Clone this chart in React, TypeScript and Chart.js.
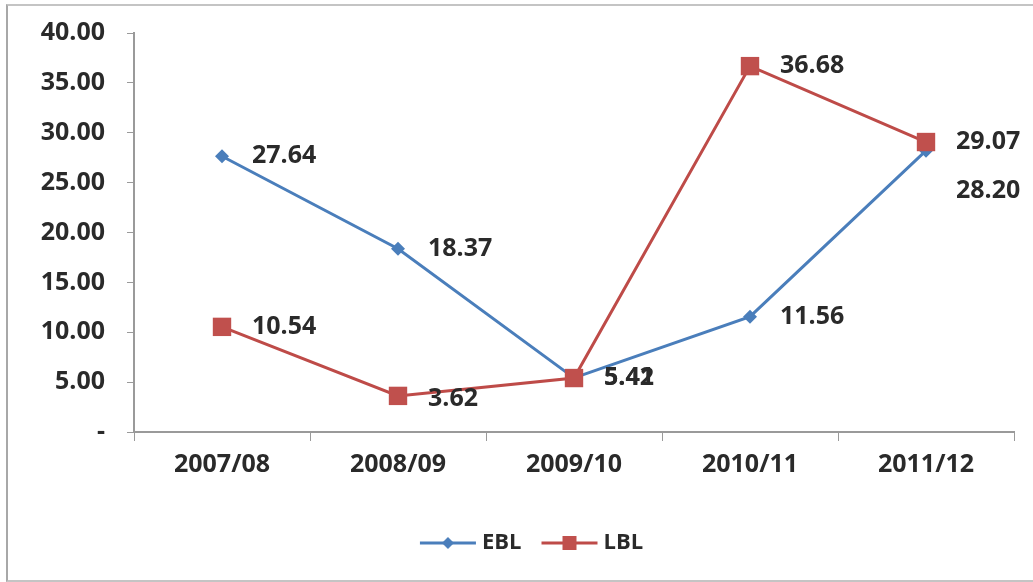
import React, { useEffect, useRef } from 'react';
import { Chart, registerables } from 'chart.js';

Chart.register(...registerables);

// ---- data ----
const categories = ['2007/08', '2008/09', '2009/10', '2010/11', '2011/12'];
const seriesNames = ['EBL', 'LBL'];
const eblValues = [27.64, 18.37, 5.42, 11.56, 28.2];
const lblValues = [10.54, 3.62, 5.41, 36.68, 29.07];
const yMin = 0;
const yMax = 40;
const yStep = 5;

// ---- style ----
const FONT = '"Open Sans", "Liberation Sans", sans-serif';
const TEXT = '#2a2a2a';
const AXIS = '#9a9a9a';
const BLUE = '#4a7ebb';
const RED = '#be4b48';
const RED_FILL = '#c0504d';
// vertical nudges for value labels per series (pixels)
const labelShiftY = [
  [0, 0, 0, 0, 40],
  [0, 3, 0, 0, 0],
];
const LEGEND_SHIFT_X = 27;

function makeLegendImage(color: string, fill: string, marker: 'diamond' | 'square') {
  const c = document.createElement('canvas');
  c.width = 58;
  c.height = 20;
  const g = c.getContext('2d')!;
  g.strokeStyle = color;
  g.lineWidth = 3;
  g.beginPath();
  g.moveTo(1, 10);
  g.lineTo(57, 10);
  g.stroke();
  g.fillStyle = fill;
  if (marker === 'diamond') {
    g.beginPath();
    g.moveTo(29, 4);
    g.lineTo(35, 10);
    g.lineTo(29, 16);
    g.lineTo(23, 10);
    g.closePath();
    g.fill();
  } else {
    g.fillRect(22, 3, 14, 14);
  }
  return c;
}

const valueLabels = {
  id: 'valueLabels',
  afterDatasetsDraw(chart: any) {
    const ctx = chart.ctx;
    ctx.save();
    ctx.font = `bold 25px ${FONT}`;
    ctx.fillStyle = TEXT;
    ctx.textAlign = 'left';
    ctx.textBaseline = 'middle';
    chart.data.datasets.forEach((ds: any, di: number) => {
      const meta = chart.getDatasetMeta(di);
      meta.data.forEach((pt: any, i: number) => {
        const v = ds.data[i] as number;
        const dy = (labelShiftY[di] && labelShiftY[di][i]) || 0;
        ctx.fillText(v.toFixed(2), pt.x + 30, pt.y + dy);
      });
    });
    ctx.restore();
  },
};

const legendShift = {
  id: 'legendShift',
  afterLayout(chart: any) {
    const lg = chart.legend;
    if (lg) {
      lg.left += LEGEND_SHIFT_X;
      lg.right += LEGEND_SHIFT_X;
    }
  },
};

export default function App() {
  const ref = useRef<HTMLCanvasElement>(null);

  useEffect(() => {
    if (!ref.current) return;
    const legendImgs = [
      makeLegendImage(BLUE, BLUE, 'diamond'),
      makeLegendImage(RED, RED_FILL, 'square'),
    ];
    const chart = new Chart(ref.current, {
      type: 'line',
      data: {
        labels: categories,
        datasets: [
          {
            label: seriesNames[0],
            data: eblValues,
            borderColor: BLUE,
            backgroundColor: BLUE,
            borderWidth: 3,
            pointStyle: 'rectRot',
            pointRadius: 7,
            pointBorderWidth: 0,
            pointBackgroundColor: BLUE,
            tension: 0,
            order: 1,
          },
          {
            label: seriesNames[1],
            data: lblValues,
            borderColor: RED,
            backgroundColor: RED_FILL,
            borderWidth: 3,
            pointStyle: 'rect',
            pointRadius: 13,
            pointBorderWidth: 0,
            pointBackgroundColor: RED_FILL,
            tension: 0,
            order: 0,
          },
        ],
      },
      options: {
        responsive: false,
        animation: false,
        layout: { padding: { top: 33, right: 19, bottom: 18, left: 0 } },
        plugins: {
          tooltip: { enabled: false },
          legend: {
            position: 'bottom',
            labels: {
              usePointStyle: true,
              pointStyleWidth: 46,
              padding: 25,
              color: TEXT,
              font: { family: FONT, size: 22, weight: 'bold' },
              generateLabels: () =>
                seriesNames.map((name, i) => ({
                  text: name,
                  pointStyle: legendImgs[i] as any,
                  fillStyle: 'transparent',
                  strokeStyle: 'transparent',
                  lineWidth: 0,
                  hidden: false,
                  datasetIndex: i,
                  fontColor: TEXT,
                })),
            },
          },
        },
        scales: {
          x: {
            offset: true,
            afterFit: (s: any) => {
              s.height = 75;
              s.paddingLeft = 0;
              s.paddingRight = 0;
            },
            grid: {
              offset: true,
              drawOnChartArea: false,
              drawTicks: true,
              tickLength: 9,
              color: AXIS,
            },
            border: { color: AXIS, width: 2 },
            ticks: {
              color: TEXT,
              padding: 9,
              maxRotation: 0,
              font: { family: FONT, size: 25, weight: 'bold' },
            },
          },
          y: {
            min: yMin,
            max: yMax,
            afterFit: (s: any) => {
              s.width = 134;
              s.paddingTop = 0;
              s.paddingBottom = 0;
            },
            grid: {
              drawOnChartArea: false,
              drawTicks: true,
              tickLength: 7,
              color: AXIS,
            },
            border: { color: AXIS, width: 2 },
            ticks: {
              stepSize: yStep,
              color: TEXT,
              padding: 22,
              font: { family: FONT, size: 25, weight: 'bold' },
              callback: (v: any) => (Number(v) === 0 ? '-' : Number(v).toFixed(2)),
            },
          },
        },
      },
      plugins: [valueLabels, legendShift],
    });
    return () => chart.destroy();
  }, []);

  return (
    <div
      style={{
        position: 'fixed',
        left: 0,
        top: 0,
        width: 1033,
        height: 582,
        background: '#ffffff',
        overflow: 'hidden',
      }}
    >
      <div
        style={{
          position: 'absolute',
          left: 6,
          top: 4,
          width: 1100,
          height: 578,
          boxSizing: 'border-box',
          borderLeft: '2px solid #a8a8a8',
          borderTop: '2px solid #c4c4c4',
          borderBottom: '2px solid #c4c4c4',
        }}
      />
      <canvas
        ref={ref}
        width={1033}
        height={582}
        style={{ position: 'absolute', left: 0, top: 0, width: 1033, height: 582 }}
      />
    </div>
  );
}
